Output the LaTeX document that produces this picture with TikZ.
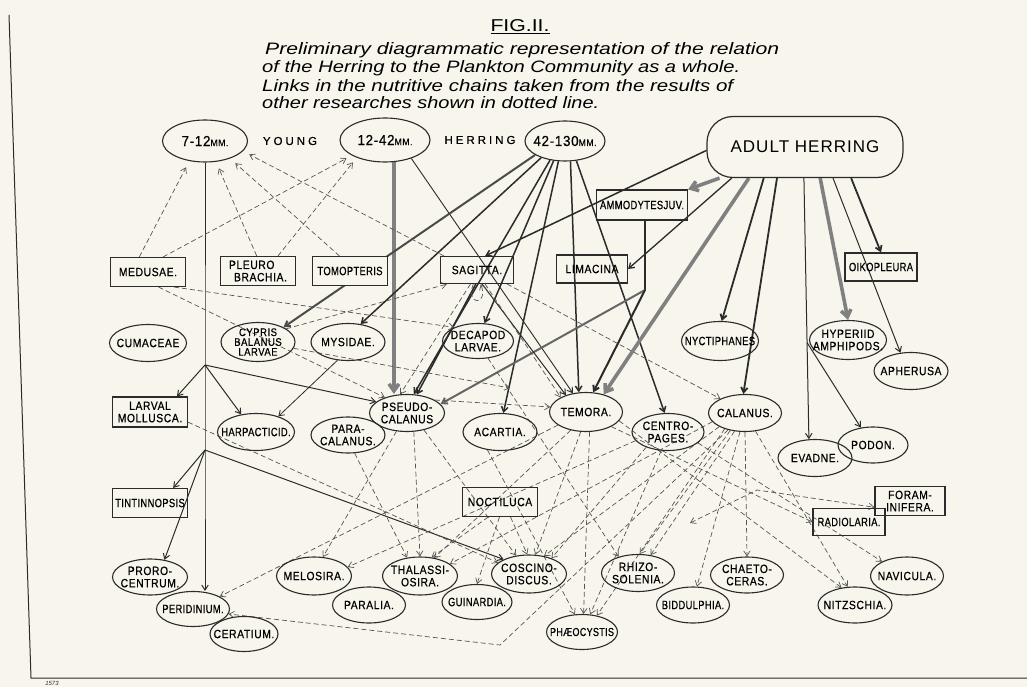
\documentclass[tikz,border=0pt]{standalone}
\usepackage{fontspec}
\setmainfont{Liberation Sans}
\newfontfamily\labfont[FakeStretch=0.86,LetterSpace=5,FakeBold=0.6]{Liberation Sans}
\newfontfamily\narfont[FakeStretch=0.78,LetterSpace=3,FakeBold=0.6]{Liberation Sans}
\newfontfamily\numfont[FakeStretch=0.92,LetterSpace=5,FakeBold=0.6]{Liberation Sans}
\newfontfamily\bigfont[LetterSpace=6]{Liberation Sans}
\newfontfamily\spfont[LetterSpace=26,FakeBold=0.6]{Liberation Sans}
\usetikzlibrary{arrows.meta,shapes.geometric,backgrounds,calc}
\definecolor{paper}{HTML}{F7F5EC}
\definecolor{ink}{HTML}{2B2B2B}
\newcommand{\sizelab}[1]{{\numfont\fontsize{14.5}{14}\selectfont #1}{\numfont\fontsize{9.5}{10}\selectfont MM.}}

\begin{document}
\begin{tikzpicture}[x=1pt,y=-1pt,>={Straight Barb[length=5pt,width=6.5pt]},
  ell/.style={draw=ink,line width=1.1pt,ellipse,minimum width=74pt,minimum height=37pt,inner xsep=-16pt,inner ysep=-5pt,align=center,font=\labfont\fontsize{12}{12.3}\selectfont},
  box/.style={draw=ink,line width=1.1pt,minimum width=75pt,minimum height=29pt,inner sep=1pt,align=center,font=\labfont\fontsize{12}{12.3}\selectfont},
  nar/.style={font=\narfont\fontsize{12}{12.3}\selectfont},
  sol/.style={draw=ink,line width=1pt,->},
  med/.style={draw=ink,line width=1.5pt,->},
  thk/.style={draw=black!50,line width=3.6pt,-{Straight Barb[length=7pt,width=10pt]}},
  dsh/.style={draw=ink!80,line width=.7pt,dash pattern=on 5pt off 3pt,->}]
\useasboundingbox (0,0) rectangle (1027,687);

% title and caption
\node[inner sep=0pt] (fig) at (520,27) {\underline{\resizebox{59pt}{12pt}{FIG.II.}}};
\node[anchor=west,inner sep=0pt] (cap1) at (265,50) {\resizebox{514pt}{12pt}{\itshape Preliminary diagrammatic representation of the relation}};
\node[anchor=west,inner sep=0pt] (cap2) at (262,68) {\resizebox{478pt}{12pt}{\itshape of the Herring to the Plankton Community as a whole.}};
\node[anchor=west,inner sep=0pt] (cap3) at (262,86) {\resizebox{471pt}{12pt}{\itshape Links in the nutritive chains taken from the results of}};
\node[anchor=west,inner sep=0pt] (cap4) at (262,103) {\resizebox{337pt}{12pt}{\itshape other researches shown in dotted line.}};

% herring
\node[ell,minimum width=85pt,minimum height=42pt] (n712) at (205,141) {\sizelab{7-12}};
\node[font=\spfont\fontsize{11.5}{12}\selectfont] (young) at (290,141) {YOUNG};
\node[ell,minimum width=90pt,minimum height=44pt] (n1242) at (385,140) {\sizelab{12-42}};
\node[font=\spfont\fontsize{11.5}{12}\selectfont] (herr) at (480,140) {HERRING};
\node[ell,minimum width=80pt,minimum height=40pt] (n42130) at (565,141) {\sizelab{42-130}};
\node[draw=ink,line width=1.2pt,rounded corners=26pt,minimum width=196pt,minimum height=61pt,font=\bigfont\fontsize{17}{17}\selectfont] (adult) at (805,147) {ADULT HERRING};

% boxes
\node[box,nar,minimum width=91pt,minimum height=30pt] (ammo) at (642,205) {AMMODYTESJUV.};
\node[box] (medusae) at (148,272) {MEDUSAE.};
\node[box,align=left] (pleuro) at (258,271) {PLEURO\\\hspace*{5pt}BRACHIA.};
\node[box,nar,fill=paper] (tomop) at (350,271) {TOMOPTERIS};
\node[box,minimum width=73pt,minimum height=27pt] (sagitta) at (477,270) {SAGITTA.};
\node[box,minimum width=71pt,minimum height=28pt] (limacina) at (592,269) {LIMACINA};
\node[box,nar,minimum width=72pt,minimum height=28pt] (oiko) at (881,267) {OIKOPLEURA};
\node[box,minimum height=30pt] (mollusca) at (150,412) {LARVAL\\MOLLUSCA.};
\node[box,nar] (tintin) at (150,503) {TINTINNOPSIS};
\node[box] (nocti) at (500,502) {NOCTILUCA};
\node[box,minimum width=70pt] (foram) at (910,501) {FORAM-\\INIFERA.};
\node[box,nar,minimum width=72pt,minimum height=27pt] (radio) at (849,522) {RADIOLARIA.};

% ellipses
\node[ell,minimum width=77pt] (cumaceae) at (148,343) {CUMACEAE};
\node[ell,minimum height=39pt,font=\labfont\fontsize{11}{9.8}\selectfont] (cypris) at (258,342) {CYPRIS\\BALANUS\\LARVAE};
\node[ell] (mysidae) at (348,342) {MYSIDAE.};
\node[ell,minimum width=71pt,minimum height=35pt] (decapod) at (478,341) {DECAPOD\\LARVAE.};
\node[ell,nar,minimum width=77pt,minimum height=39pt] (nycti) at (720,341) {NYCTIPHANES};
\node[ell,minimum width=77pt,minimum height=39pt] (hyper) at (848,340) {HYPERIID\\AMPHIPODS.};
\node[ell] (apherusa) at (911,371) {APHERUSA};
\node[ell,nar,minimum width=77pt] (harpact) at (256,432) {HARPACTICID.};
\node[ell,minimum height=36pt] (paracal) at (348,435) {PARA-\\CALANUS.};
\node[ell,minimum width=75pt] (pseudocal) at (407,413) {PSEUDO-\\CALANUS};
\node[ell] (acartia) at (500,432) {ACARTIA.};
\node[ell,minimum width=73pt,minimum height=39pt] (temora) at (586,412) {TEMORA.};
\node[ell,minimum width=72pt] (centro) at (668,432) {CENTRO-\\PAGES.};
\node[ell,minimum width=73pt] (calanus) at (745,413) {CALANUS.};
\node[ell] (evadne) at (815,458) {EVADNE.};
\node[ell,minimum width=70pt,minimum height=36pt] (podon) at (873,445) {PODON.};
\node[ell,minimum width=75pt,minimum height=36pt] (proro) at (150,577) {PRORO-\\CENTRUM.};
\node[ell,nar,minimum width=73pt,minimum height=35pt] (peridin) at (193,609) {PERIDINIUM.};
\node[ell,minimum width=68pt,minimum height=35pt] (ceratium) at (244,634) {CERATIUM.};
\node[ell,minimum width=75pt,minimum height=38pt] (melosira) at (314,576) {MELOSIRA.};
\node[ell,minimum width=73pt,minimum height=36pt] (paralia) at (369,605) {PARALIA.};
\node[ell,minimum width=75pt,minimum height=38pt] (thalass) at (420,576) {THALASSI-\\OSIRA.};
\node[ell,nar,minimum width=70pt,minimum height=35pt] (guinard) at (477,602) {GUINARDIA.};
\node[ell,minimum width=75pt,minimum height=38pt] (coscino) at (529,574) {COSCINO-\\DISCUS.};
\node[ell,minimum width=73pt] (rhizo) at (638,573) {RHIZO-\\SOLENIA.};
\node[ell,minimum width=71pt,minimum height=35pt,font=\narfont\fontsize{11.5}{12}\selectfont] (phaeo) at (582,632) {PHÆOCYSTIS};
\node[ell,nar,minimum width=73pt,minimum height=36pt] (biddul) at (693,605) {BIDDULPHIA.};
\node[ell,minimum width=73pt,minimum height=36pt] (chaeto) at (747,575) {CHAETO-\\CERAS.};
\node[ell,minimum width=74pt,minimum height=36pt] (nitz) at (855,605) {NITZSCHIA.};
\node[ell,minimum width=73pt,minimum height=38pt] (navic) at (907,576) {NAVICULA.};

\node[font=\itshape\fontsize{6}{6}\selectfont,text=ink,inner sep=0pt] (num) at (52,683) {1573};

\coordinate (j1) at (205,365);
\coordinate (j2) at (205,450);
\coordinate (amj) at (645,290);
\coordinate (evj) at ($(adult.268)!.63!(evadne.108)$);
\coordinate (cyp) at (510,388);
\coordinate (kk) at (500,645);
\coordinate (fk) at (757,490);
\coordinate (fke) at (690,523);

\begin{scope}[on background layer]
\fill[paper] (0,0) rectangle (1027,687);
\draw[ink,line width=1pt] (9,15) -- (31,678) -- (1027,678);

% young herring
\draw[sol] (n712.south) -- (j1) -- (j2) -- (j2 |- peridin.north);
\draw[sol] (j1) -- (mollusca.30);
\draw[sol] (j1) -- (harpact.130);
\draw[sol] (j1) -- (pseudocal.160);
\draw[sol] (j2) -- (tintin.33);
\draw[sol] (j2) -- (proro.50);
\draw[sol] (j2) -- (coscino.150);
\draw[thk] (n1242.292) -- (pseudocal.north -| n1242.292);
\draw[sol,line width=.9pt] (n1242.325) -- (temora.125);
\draw[med,line width=2pt,draw=ink!85] (n42130.205) -- (cypris.30);
\draw[med] (n42130.215) -- (mysidae.55);
\draw[med] (n42130.232) -- (pseudocal.70);
\draw[med] (n42130.240) -- (decapod.70);
\draw[med] (n42130.252) -- (acartia.80);
\draw[med] (n42130.285) -- (temora.110);
\draw[med] (n42130.300) -- (centro.100);

% adult herring
\draw[med] (adult.182) -- (sagitta.60);
\draw[thk] (adult.200) -- (ammo.north east);
\draw[sol,line width=1.3pt] (adult.203) -- (limacina.east);
\draw[thk] (adult.209) -- (temora.45);
\draw[med,line width=1.8pt] (adult.217) -- (nycti.85);
\draw[med,line width=1.8pt] (adult.228) -- (calanus.95);
\draw[sol] (adult.268) -- (evadne.108);
\draw[sol] (evj) -- (podon.125);
\draw[thk] (adult.296) -- (hyper.north);
\draw[sol] (adult.312) -- (apherusa.120);
\draw[med,line width=1.8pt] (adult.326) -- (oiko.north);
\draw[draw=ink,line width=1.4pt] (ammo.south -| amj) -- (amj);
\draw[med,draw=black!60,line width=2pt] (amj) -- (pseudocal.15);
\draw[med,line width=2pt] (amj) -- (temora.70);
\draw[med] (sagitta.265) -- (pseudocal.62);
\draw[sol] (sagitta.290) -- (temora.140);
\draw[sol,line width=.8pt] (mysidae.240) -- (harpact.35);

% dotted links
\draw[dsh,shorten >=7pt] (medusae.120) -- (n712.232);
\draw[dsh,shorten >=6pt] (medusae.45) -- (n1242.205);
\draw[dsh,shorten >=7pt] (pleuro.95) -- (n712.298);
\draw[dsh,shorten >=6pt] (pleuro.37) -- (n1242.212);
\draw[dsh,shorten >=7pt] (tomop.125) -- (n712.325);
\draw[dsh,shorten >=7pt] (sagitta.157) -- (n712.345);
\draw[dsh] (medusae.-30) -- (decapod.150);
\draw[dsh] (medusae.-55) -- (pseudocal.145);
\draw[dsh] (cypris.25) -- (sagitta.205);
\draw[dsh] (cypris.-10) -- (cyp);
\draw[dsh] (sagitta.255) .. controls +(-8,22) and +(8,22) .. (sagitta.285);
\draw[dsh] (sagitta.245) -- (pseudocal.110);
\draw[dsh] (sagitta.300) -- (temora.150);
\draw[dsh] (sagitta.335) -- (calanus.150);
\draw[dsh] (decapod.300) -- (rhizo.140);
\draw[dsh] (mollusca.-15) -- (coscino.160);
\draw[dsh] (pseudocal.25) -- (temora.172);
\draw[dsh] (pseudocal.240) -- (melosira.65);
\draw[dsh] (pseudocal.290) -- (thalass.90);
\draw[dsh] (pseudocal.315) -- (coscino.125);
\draw[dsh] (paracal.290) -- (thalass.125);
\draw[dsh] (acartia.235) -- (phaeo.112);
\draw[dsh] (temora.205) -- (peridin.25);
\draw[dsh] (temora.230) -- (thalass.52);
\draw[dsh] (temora.255) -- (coscino.72);
\draw[dsh] (temora.280) -- (phaeo.85);
\draw[dsh] (temora.330) -- (radio.west);
\draw[dsh] (temora.345) -- (nitz.128);
\draw[dsh] (centro.195) -- (melosira.15);
\draw[dsh] (centro.215) -- (coscino.35);
\draw[dsh] (centro.250) -- (phaeo.65);
\draw[dsh] (centro.340) -- (navic.150);
\draw[dsh] (calanus.195) -- (thalass.22);
\draw[dsh] (calanus.208) -- (coscino.50);
\draw[dsh] (calanus.218) -- (phaeo.48);
\draw[dsh] (calanus.230) -- (rhizo.85);
\draw[dsh] (calanus.240) -- (rhizo.55);
\draw[dsh] (calanus.255) -- (biddul.78);
\draw[dsh] (calanus.270) -- (chaeto.90);
\draw[dsh] (calanus.300) -- (nitz.112);
\draw[dsh] (calanus.225) -- (kk) -- (peridin.-8);
\draw[dsh] (nocti.232) -- (thalass.58);
\draw[dsh] (nocti.268) -- (guinard.90);
\draw[dsh] (nocti.305) -- (coscino.95);
\draw[dsh,<->] (fke) -- (fk) -- (foram.190);
\end{scope}
\end{tikzpicture}
\end{document}
